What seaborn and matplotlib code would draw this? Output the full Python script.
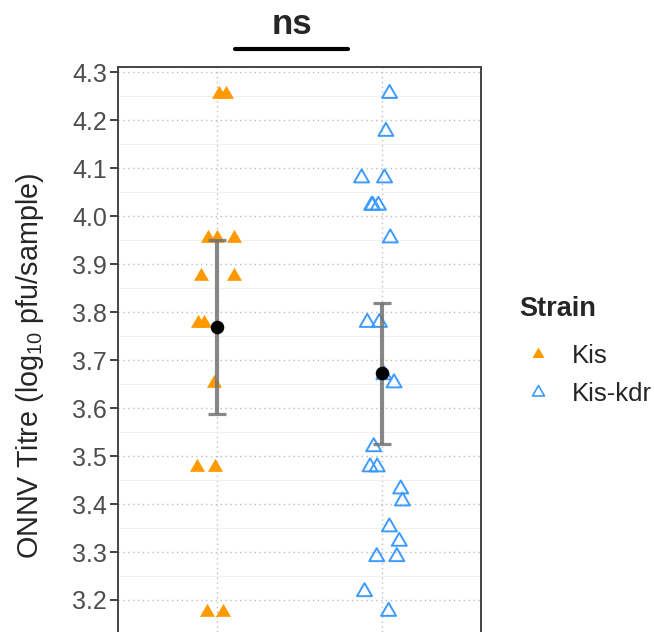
import numpy as np
import pandas as pd
import matplotlib
matplotlib.use("Agg")
import matplotlib.pyplot as plt
from matplotlib.lines import Line2D
from matplotlib.path import Path
import seaborn as sns

# ---------------- data ----------------
strains = ["Kis", "Kis-kdr"]
kis_titre = [4.255, 4.255, 3.954, 3.954, 3.954, 3.875, 3.875, 3.778, 3.778,
             3.653, 3.477, 3.477, 3.176, 3.176]
kdr_titre = [4.255, 4.176, 4.079, 4.079, 4.022, 4.022, 4.022, 3.954, 3.778,
             3.778, 3.669, 3.652, 3.519, 3.477, 3.477, 3.431, 3.406, 3.352,
             3.322, 3.290, 3.290, 3.217, 3.176]
summary_mean = [3.769, 3.673]
summary_low = [3.587, 3.525]
summary_high = [3.950, 3.819]
y_ticks = [3.2, 3.3, 3.4, 3.5, 3.6, 3.7, 3.8, 3.9, 4.0, 4.1, 4.2, 4.3]
sig_label = "ns"

# ---------------- style ----------------
sns.set_style("white")
plt.rcParams["font.family"] = ["Liberation Sans", "DejaVu Sans"]
plt.rcParams["mathtext.default"] = "regular"

orange = "#FF9900"
blue = "#3D9BFF"

df = pd.DataFrame({
    "Strain": ["Kis"] * len(kis_titre) + ["Kis-kdr"] * len(kdr_titre),
    "Titre": kis_titre + kdr_titre,
})

fig = plt.figure(figsize=(6.54, 6.32), dpi=100)
ax = fig.add_axes([118 / 654, 0.0, (481 - 118) / 654, 565 / 632])

tri = Path([(-1.0, -0.577), (1.0, -0.577), (0.0, 1.155), (-1.0, -0.577)],
           [Path.MOVETO, Path.LINETO, Path.LINETO, Path.CLOSEPOLY])

np.random.seed(3)
sns.stripplot(data=df[df.Strain == "Kis"], x="Strain", y="Titre", order=strains,
              color=orange, marker=tri, size=12.5, jitter=0.13, linewidth=0,
              ax=ax, zorder=3)
sns.stripplot(data=df[df.Strain == "Kis-kdr"], x="Strain", y="Titre", order=strains,
              color=blue, marker=tri, size=12.5, jitter=0.13, linewidth=1.4,
              ax=ax, zorder=3)
coll = ax.collections[-1]
coll.set_facecolor("none")
coll.set_edgecolor(blue)
coll.set_linewidth(1.4)

xpos = np.arange(len(strains))
means = np.array(summary_mean)
yerr = np.vstack([means - np.array(summary_low), np.array(summary_high) - means])
ax.errorbar(xpos, means, yerr=yerr, fmt="none", ecolor="#737373", alpha=0.85,
            elinewidth=3.0, capsize=6.2, capthick=2.3, zorder=4)
ax.scatter(xpos, means, s=95, color="black", zorder=5, linewidths=0)

ax.set_xlim(-0.6, 1.6)
ax.set_ylim(3.2 - 32 / 480, 4.3 + 5 / 480)
ax.set_yticks(y_ticks)
ax.set_yticklabels([f"{t:.1f}" for t in y_ticks])
ax.set_yticks(np.array(y_ticks[:-1]) + 0.05, minor=True)
ax.set_xticks(xpos)
ax.tick_params(axis="x", bottom=False, labelbottom=False)
ax.tick_params(axis="y", which="major", labelsize=18, labelcolor="#4d4d4d",
               color="#333333", length=6, width=1.3, left=True, pad=2)
ax.tick_params(axis="y", which="minor", left=False)
ax.set_xlabel("")
ax.set_ylabel("")
fig.text(30 / 654, 1 - 365.5 / 632, r"ONNV Titre (log$_{10}$ pfu/sample)",
         rotation=90, ha="center", va="center", fontsize=20.7)

ax.grid(True, which="major", axis="both", linestyle=(0, (1, 2.5)),
        color="#bdbdbd", linewidth=1.0)
ax.grid(True, which="minor", axis="y", linestyle="-", color="#f0f0f0",
        linewidth=0.8)
ax.set_axisbelow(True)

for side in ["left", "top", "right"]:
    ax.spines[side].set_visible(True)
    ax.spines[side].set_color("#444444")
    ax.spines[side].set_linewidth(1.4)
ax.spines["bottom"].set_visible(False)

# significance annotation
fig.text(292 / 654, 1 - 25 / 632, sig_label, ha="center", va="center",
         fontsize=25, fontweight="bold")
fig.add_artist(Line2D([235 / 654, 348 / 654], [1 - 49 / 632, 1 - 49 / 632],
                      color="black", linewidth=3.0, transform=fig.transFigure))

handles = [
    Line2D([], [], linestyle="none", marker=tri, markersize=10,
           markerfacecolor=orange, markeredgecolor=orange, markeredgewidth=0),
    Line2D([], [], linestyle="none", marker=tri, markersize=10,
           markerfacecolor="none", markeredgecolor=blue, markeredgewidth=1.2),
]
leg = fig.legend(handles, strains, title="Strain", loc="upper left",
                 bbox_to_anchor=(496 / 654, 1 - 273 / 632), frameon=False,
                 fontsize=18.5, title_fontsize=19.5, handletextpad=0.55,
                 labelspacing=0.55, alignment="left", handlelength=1.5)
leg.get_title().set_fontweight("bold")
leg._legend_box.sep = 16

fig.savefig("out.png", dpi=100)
